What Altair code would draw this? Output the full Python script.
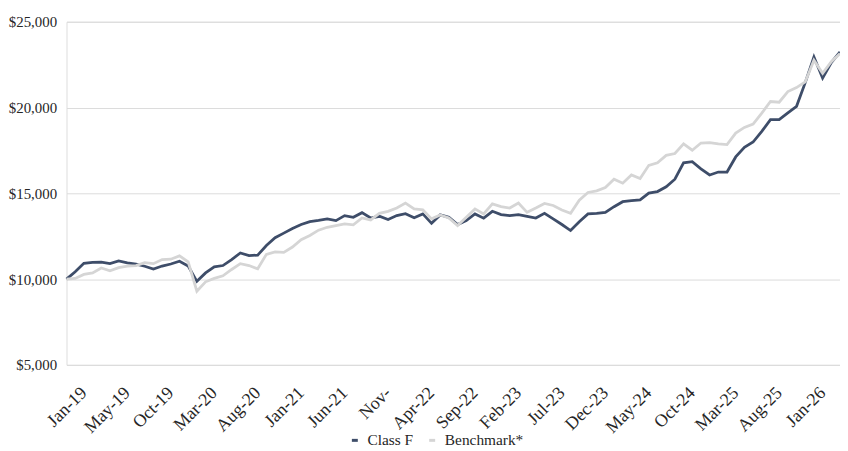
import altair as alt
import pandas as pd

# Growth of $10,000 — monthly points (index 0 = inception Jan-19)
class_f = [10000, 10430, 10920, 10980, 10990, 10900, 11060, 10950, 10870, 10750,
           10580, 10760, 10880, 11040, 10760, 9870, 10360, 10710, 10790, 11140,
           11520, 11370, 11400, 11960, 12410, 12680, 12950, 13180, 13350, 13420,
           13510, 13410, 13700, 13600, 13870, 13560, 13660, 13470, 13700, 13810,
           13580, 13800, 13250, 13740, 13600, 13180, 13410, 13800, 13550, 13950,
           13760, 13700, 13760, 13660, 13560, 13830, 13510, 13180, 12830, 13340,
           13800, 13830, 13890, 14220, 14510, 14570, 14620, 15010, 15100, 15380,
           15820, 16780, 16840, 16430, 16070, 16240, 16240, 17120, 17680, 17990,
           18610, 19290, 19290, 19690, 20070, 21450, 22950, 21720, 22620, 23240]

benchmark = [10000, 10040, 10270, 10360, 10650, 10480, 10670, 10750, 10790, 10960,
             10900, 11140, 11160, 11350, 11000, 9290, 9840, 10040, 10190, 10560,
             10900, 10790, 10600, 11440, 11580, 11560, 11870, 12290, 12540, 12850,
             13020, 13120, 13220, 13160, 13560, 13450, 13830, 13950, 14140, 14430,
             14090, 14030, 13510, 13740, 13560, 13120, 13600, 14090, 13800, 14380,
             14220, 14140, 14430, 13890, 14140, 14410, 14290, 14030, 13830, 14600,
             15050, 15140, 15340, 15820, 15590, 16070, 15860, 16630, 16780, 17210,
             17320, 17880, 17510, 17930, 17960, 17880, 17840, 18510, 18840, 19040,
             19670, 20350, 20310, 20930, 21160, 21500, 22760, 21990, 22670, 23150]

tick_labels = ["Jan-19", "May-19", "Oct-19", "Mar-20", "Aug-20", "Jan-21", "Jun-21",
               "Nov-", "Apr-22", "Sep-22", "Feb-23", "Jul-23", "Dec-23", "May-24",
               "Oct-24", "Mar-25", "Aug-25", "Jan-26"]
tick_step = 5

series_names = ["Class F", "Benchmark*"]
series_colors = ["#3e4d69", "#d5d5d5"]

rows = []
for name, vals in zip(series_names, [class_f, benchmark]):
    for i, v in enumerate(vals):
        rows.append({"idx": i, "value": v, "series": name})
df = pd.DataFrame(rows)

label_arr = "[" + ",".join("'" + t + "'" for t in tick_labels) + "]"
tick_vals = [i * tick_step for i in range(len(tick_labels))]

FONT = "Liberation Serif"
TXT = "#262626"

x_enc = alt.X(
    "idx:Q",
    scale=alt.Scale(domain=[0, len(class_f) - 1], nice=False, zero=False),
    axis=alt.Axis(
        values=tick_vals,
        labelExpr=label_arr + "[round(datum.value/" + str(tick_step) + ")]",
        labelAngle=-45,
        labelAlign="right",
        labelBaseline="top",
        labelOffset=11,
        labelPadding=19,
        labelFontSize=18,
        labelFont=FONT,
        labelColor=TXT,
        labelOverlap=False,
        labelBound=False,
        grid=False,
        domain=False,
        ticks=False,
        title=None,
    ),
)
y_enc = alt.Y(
    "value:Q",
    scale=alt.Scale(domain=[5000, 25000], nice=False, zero=False),
    axis=alt.Axis(
        values=[5000, 10000, 15000, 20000, 25000],
        format="$,.0f",
        labelFontSize=15,
        labelFont=FONT,
        labelColor=TXT,
        labelPadding=10,
        grid=True,
        gridColor="#dcdcdc",
        gridWidth=1,
        domain=False,
        ticks=False,
        title=None,
    ),
)
color_enc = alt.Color(
    "series:N",
    scale=alt.Scale(domain=series_names, range=series_colors),
    legend=alt.Legend(
        title=None,
        orient="none",
        direction="horizontal",
        legendX=283,
        legendY=414,
        symbolType="M-1,0L1,0",
        symbolSize=36,
        symbolStrokeWidth=3,
        labelFont=FONT,
        labelFontSize=15.5,
        labelColor=TXT,
        labelOffset=5,
        columnPadding=9,
        padding=0,
    ),
)

base = alt.Chart(df).mark_line(strokeWidth=2.8, strokeJoin="miter").encode(
    x=x_enc, y=y_enc, color=color_enc
)

chart = alt.layer(
    base.transform_filter(alt.datum.series == "Class F"),
    base.transform_filter(alt.datum.series == "Benchmark*"),
).properties(
    width=780,
    height=346,
    autosize=alt.AutoSizeParams(type="none"),
    padding={"left": 59, "top": 12, "right": 0, "bottom": 85},
).configure_view(stroke=None).configure(
    background="white", font=FONT
).configure_legend(labelFont=FONT, labelFontSize=15.5, labelColor=TXT)

chart.save("out.html", embed_options={"renderer": "svg", "actions": False})
